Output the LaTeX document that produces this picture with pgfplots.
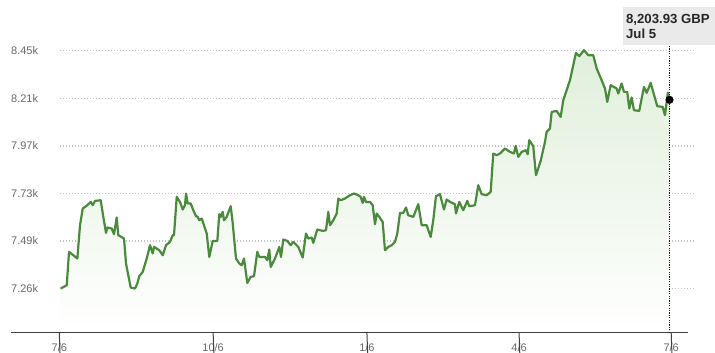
\documentclass[border=0pt]{standalone}
\usepackage{pgfplots}
\usepackage{pgfplotstable}
\pgfplotsset{compat=1.18}
\usepackage{fontspec}
\setmainfont{Liberation Sans}
\definecolor{linegreen}{RGB}{74,138,60}
\definecolor{fillgreen}{RGB}{224,239,219}
\definecolor{lblgray}{RGB}{105,105,105}
\definecolor{gridgray}{RGB}{195,195,195}
\definecolor{boxgray}{RGB}{234,234,234}
\pgfplotstableread{
d v
0.84 7255
4.43 7271.6
5.80 7439.1
8.37 7422.5
10.77 7405.9
12.38 7573.4
14.00 7657.4
16.75 7674.0
18.78 7690.6
19.98 7674.0
21.35 7695.6
24.76 7699.1
26.32 7615.1
27.93 7534.7
28.71 7561.8
31.34 7556.8
32.72 7528.1
34.33 7612.1
35.29 7523.1
38.70 7506.5
39.89 7380.8
42.70 7260.0
45.28 7255
46.65 7280.2
47.85 7316.9
49.88 7338.5
52.27 7405.9
54.25 7472.8
55.86 7431.1
56.64 7464.2
59.81 7447.6
61.84 7422.5
63.82 7472.8
66.21 7489.4
67.82 7523.1
68.60 7523.1
70.22 7715.7
72.19 7690.6
73.80 7652.4
75.18 7674.0
75.78 7732.9
76.79 7682.6
78.59 7682.6
80.14 7648.8
81.76 7618.7
82.78 7615.1
83.73 7598.5
85.17 7607.1
86.54 7573.4
88.16 7531.7
89.71 7413.9
91.75 7494.4
94.50 7494.4
95.69 7628.7
96.53 7615.1
97.73 7640.3
98.50 7598.5
100.12 7615.1
102.51 7669.0
103.71 7585.0
105.68 7405.9
107.66 7380.8
109.09 7372.2
110.47 7405.9
112.44 7283.2
114.47 7313.3
116.45 7316.9
118.42 7439.1
119.62 7414.0
123.03 7414.0
124.40 7397.3
125.60 7451.2
126.44 7363.6
129.01 7405.9
131.58 7464.2
132.60 7414.0
133.97 7501.5
136.36 7494.4
138.40 7472.8
139.95 7489.4
142.94 7464.2
145.57 7410.9
147.55 7531.7
148.92 7506.5
150.96 7511.5
151.91 7484.4
154.31 7551.8
157.54 7544.7
159.51 7548.2
160.89 7640.3
161.90 7573.4
163.88 7598.5
165.91 7632.3
166.87 7707.7
168.30 7699.1
170.87 7707.7
173.86 7724.3
176.26 7732.9
178.83 7724.3
180.26 7715.7
181.46 7685.6
182.24 7715.7
183.43 7690.6
185.83 7690.6
187.44 7674.0
188.82 7578.4
189.83 7632.3
191.39 7615.1
193.42 7590.0
194.80 7447.6
196.77 7464.2
198.80 7472.8
200.78 7489.4
202.15 7531.7
203.77 7635.3
205.74 7635.3
207.36 7662.4
208.73 7623.7
211.72 7615.1
214.71 7679.0
216.75 7573.4
219.74 7573.4
222.13 7514.5
223.68 7598.5
225.30 7719.3
227.69 7729.3
230.08 7652.4
231.70 7702.7
233.67 7690.6
236.66 7679.0
237.26 7632.3
239.23 7690.6
241.63 7648.8
244.02 7695.6
245.22 7669.0
248.62 7674.0
250.60 7774.6
252.63 7729.3
255.62 7724.3
258.01 7740.9
259.57 7934.1
261.60 7925.5
263.58 7934.1
266.57 7959.2
269.56 7942.1
271.95 7934.1
272.97 7972.3
274.52 7917.0
276.56 7942.1
279.13 7950.6
280.14 7930.5
281.10 8000.9
283.49 7970.8
285.11 7824.9
287.92 7896.8
290.49 7992.4
291.51 8042.7
293.48 8059.8
294.50 8143.3
297.49 8148.3
299.88 8118.1
301.44 8202.1
305.44 8302.7
309.03 8440.1
311.00 8423.5
313.82 8453.6
316.39 8428.5
319.38 8428.5
321.41 8361.6
324.40 8302.7
326.38 8261.0
327.75 8193.6
329.78 8277.6
333.37 8261.0
334.33 8235.9
336.36 8286.2
337.74 8243.9
339.71 8243.9
340.91 8160.4
342.34 8215.7
343.72 8151.8
346.89 8148.3
348.33 8210.7
349.70 8269.0
351.32 8238.9
353.71 8289.2
357.66 8172.0
360.89 8168.4
362.26 8126.7
364.00 8240.0
365.00 8203.93
}\pricedata
\begin{document}
\begin{tikzpicture}
\begin{axis}[
  scale only axis,
  width=704bp, height=332.7bp,
  xmin=-28.9, xmax=392.2,
  ymin=7032.7, ymax=8706,
  clip=false,
  axis line style={draw=none},
  tick pos=left,
  major tick length=0pt,
  xtick={0,92,184,275,366},
  xticklabels={7/6,10/6,1/6,4/6,7/6},
  ytick={7255,7494,7733,7972,8211,8450},
  yticklabels={7.26k,7.49k,7.73k,7.97k,8.21k,8.45k},
  yticklabel style={anchor=west, inner sep=0pt, text=lblgray, font=\fontsize{11bp}{13bp}\selectfont},
  xticklabel style={anchor=base, yshift=-18.3bp, inner sep=0pt, text=lblgray, font=\fontsize{11bp}{13bp}\selectfont},
]
\coordinate (BL) at (rel axis cs:0,0);
\coordinate (TR) at (rel axis cs:1,1);
% grid lines
\pgfplotsinvokeforeach{7255,7494,7733,7972,8211,8450}{
  \draw[gridgray, line width=1.1bp, dash pattern=on 1.2bp off 1.8bp] (axis cs:0.42,#1) -- (axis cs:379.1,#1);
}
% fill
\addplot[draw=none, top color=fillgreen, bottom color=white] table[x=d,y=v] {\pricedata} \closedcycle;
% line
\addplot[linegreen, line width=2.2bp, line join=round, mark=none] table[x=d,y=v] {\pricedata};
% bottom axis line and ticks
\draw[black!75, line width=1.1bp] (axis cs:-28.9,7032.7) -- (axis cs:376.2,7032.7);
\pgfplotsinvokeforeach{0,92,184,275,366}{
  \draw[black!75, line width=1bp] (axis cs:#1,7032.7) -- ++(0,-3.6bp);
}
% hover line
\draw[black!90, line width=1.5bp, dash pattern=on 1.2bp off 1.2bp] (axis cs:365,7032.7) -- (axis cs:365,8478.8);
% tooltip box
\fill[boxgray] (axis cs:337.3,8478.8) rectangle (axis cs:392.2,8669.9);
\node[anchor=base west, inner sep=0pt, text=black!85, font=\bfseries\fontsize{13.2bp}{15bp}\selectfont] at (axis cs:338.9,8588) {8,203.93 GBP};
\node[anchor=base west, inner sep=0pt, text=black!85, font=\bfseries\fontsize{13.2bp}{15bp}\selectfont] at (axis cs:338.9,8512.5) {Jul 5};
% end dot
\addplot[only marks, mark=*, mark size=3.8bp, black] coordinates {(365,8203.93)};
\end{axis}
\pgfresetboundingbox
\path[use as bounding box] (BL) ++(-11bp,-20.3bp) rectangle (TR);
\end{tikzpicture}
\end{document}
